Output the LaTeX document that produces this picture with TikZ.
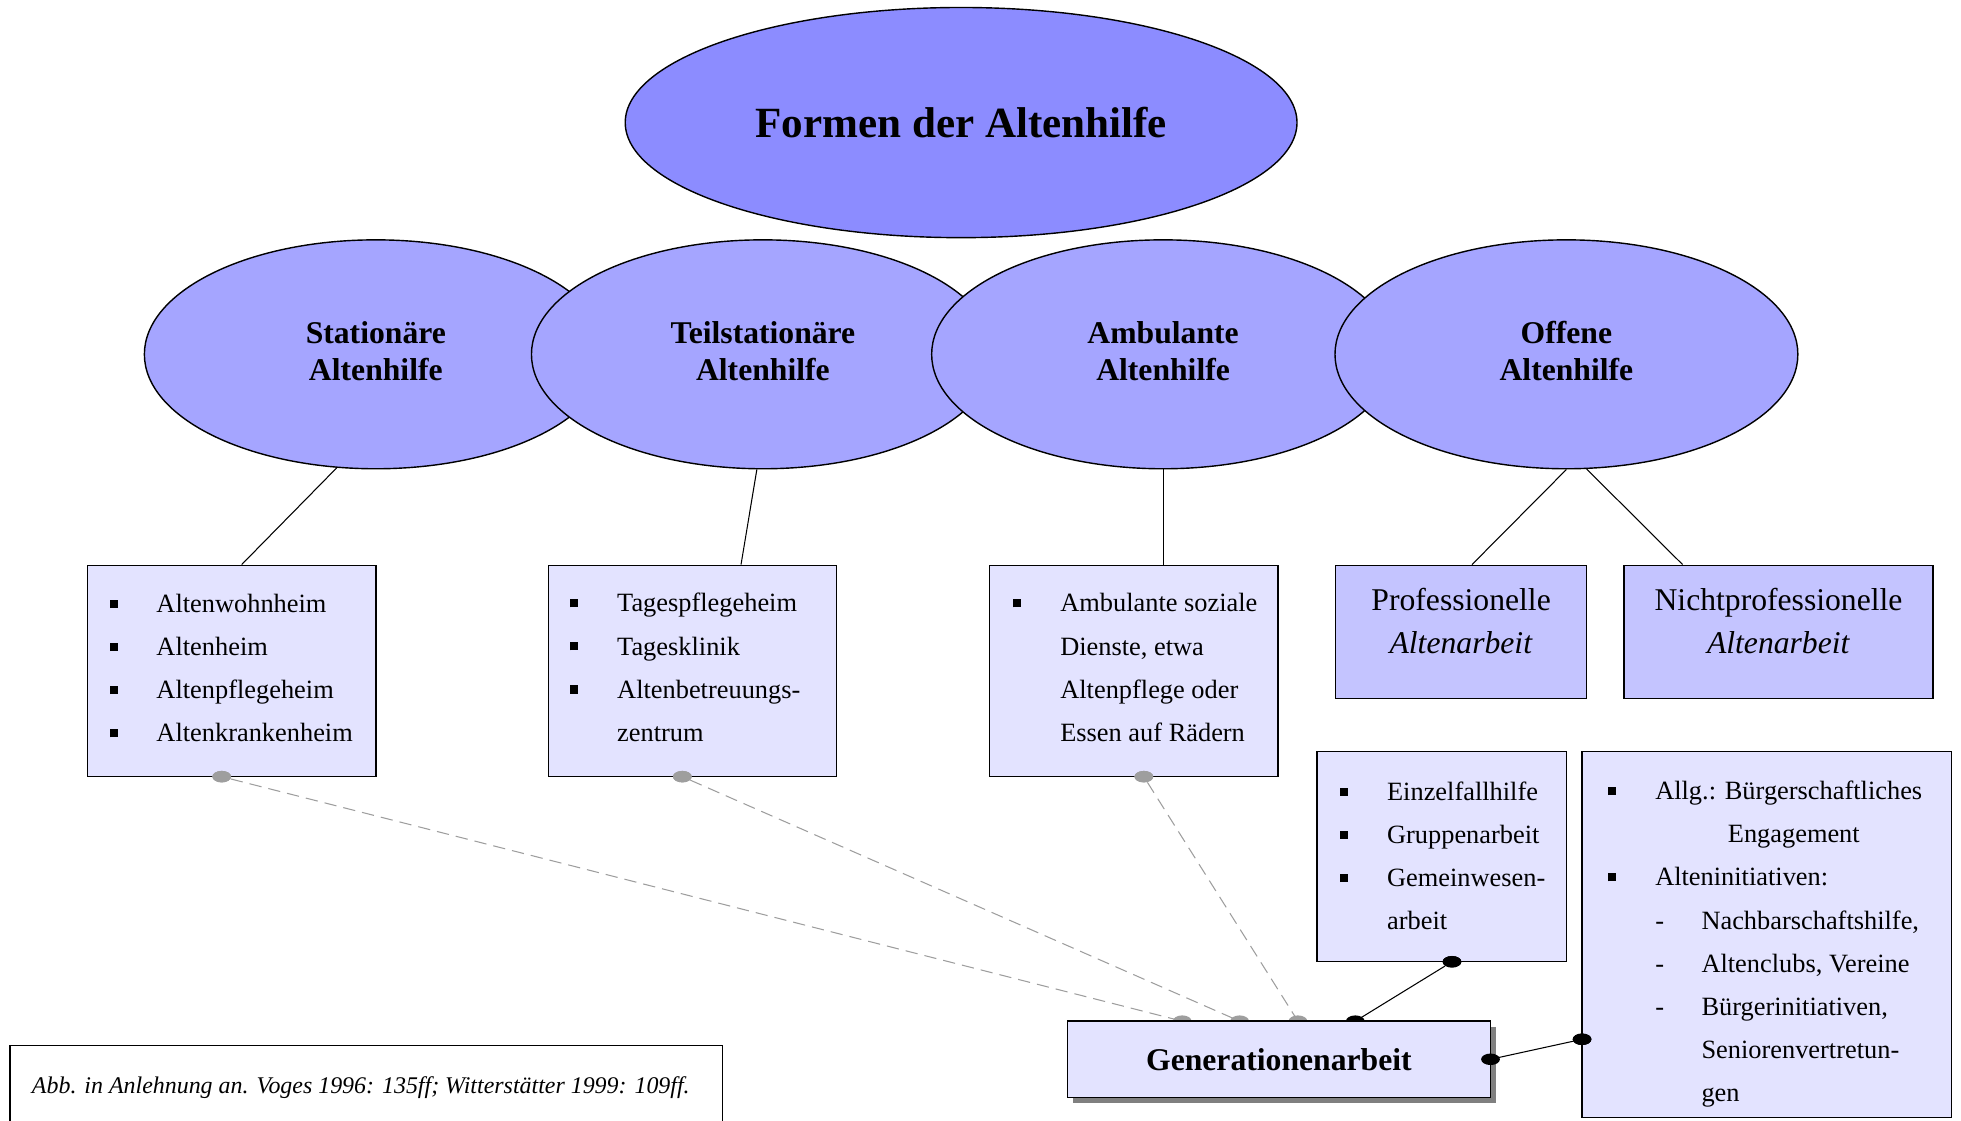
\documentclass[tikz,border=0pt]{standalone}
\usepackage{fontspec}
\setmainfont{Liberation Serif}
\usetikzlibrary{shapes.geometric,shadows,calc}
\definecolor{topfill}{HTML}{8C8CFF}
\definecolor{midfill}{HTML}{A5A5FF}
\definecolor{boxfill}{HTML}{E3E3FF}
\definecolor{profill}{HTML}{C4C4FF}
\definecolor{dotgray}{HTML}{9E9E9E}
\newcommand\blt{\rule[2.6pt]{4.6pt}{4.6pt}}
\newcommand\lfs{\fontsize{15}{24.5}\selectfont}
\begin{document}
\begin{tikzpicture}[x=0.025cm,y=-0.025cm,
  topell/.style={ellipse,draw,line width=0.8pt,fill=topfill,minimum width=13.425cm,minimum height=4.6cm,inner sep=0pt,font=\fontsize{24.5}{28}\selectfont\bfseries},
  midell/.style={ellipse,draw,line width=0.8pt,fill=midfill,minimum width=9.25cm,minimum height=4.575cm,inner sep=0pt,font=\fontsize{18}{21}\selectfont\bfseries},
  listbox/.style={rectangle,draw,line width=0.8pt,fill=boxfill,inner sep=0pt},
  listtext/.style={anchor=base west,inner sep=0pt,font=\lfs},
  probox/.style={rectangle,draw,line width=0.8pt,fill=profill,inner sep=0pt},
  protext/.style={anchor=base,inner sep=0pt,font=\fontsize{18}{24.7}\selectfont},
  genbox/.style={rectangle,draw,line width=0.8pt,fill=boxfill,inner sep=0pt,minimum width=8.46cm,minimum height=1.52cm,font=\fontsize{18}{21}\selectfont\bfseries,
    drop shadow={shadow xshift=0.11cm,shadow yshift=-0.11cm,fill=black!50,opacity=1}},
  capbox/.style={rectangle,draw,line width=0.8pt,fill=white,inner sep=0pt},
  link/.style={line width=0.6pt},
  dashlink/.style={line width=0.6pt,dotgray,dash pattern=on 7pt off 4pt},
  gdot/.style={ellipse,fill=dotgray,inner sep=0pt,minimum width=0.375cm,minimum height=0.23cm},
  kdot/.style={gdot,fill=black},
]
\useasboundingbox (0,0) rectangle (1568,896);

% ellipses
\node[topell] (top) at (768.5,98) {Formen der Altenhilfe};
\node[midell] (st) at (300.5,283.3) {\begin{tabular}{@{}c@{}}Stationäre\\Altenhilfe\end{tabular}};
\node[midell] (te) at (610,283.3) {\begin{tabular}{@{}c@{}}Teilstationäre\\Altenhilfe\end{tabular}};
\node[midell] (am) at (930,283.3) {\begin{tabular}{@{}c@{}}Ambulante\\Altenhilfe\end{tabular}};
\node[midell] (of) at (1252.5,283.3) {\begin{tabular}{@{}c@{}}Offene\\Altenhilfe\end{tabular}};

% boxes
\node[listbox,minimum width=5.7625cm,minimum height=4.225cm] (b1) at (185.25,536.5) {};
\node[listbox,minimum width=5.7625cm,minimum height=4.225cm] (b2) at (553.75,536.5) {};
\node[listbox,minimum width=5.775cm,minimum height=4.225cm] (b3) at (906.5,536.5) {};
\node[probox,minimum width=5.015cm,minimum height=2.6625cm] (pr) at (1168.3,505.25) {};
\node[probox,minimum width=6.175cm,minimum height=2.6625cm] (np) at (1422.1,505.25) {};
\node[listbox,minimum width=4.9875cm,minimum height=4.2cm] (ein) at (1152.75,685) {};
\node[listbox,minimum width=7.3875cm,minimum height=7.3075cm] (allg) at (1412.75,747.15) {};

% connectors ellipse -> box
\draw[link] (st.251.3) -- ([xshift=0.2cm]b1.north);
\draw[link] (te.267.8) -- ([xshift=0.969cm]b2.north);
\draw[link] (am.south) -- (am.south |- b3.north);
\draw[link] (of.south) -- ([xshift=0.2175cm]pr.north);
\draw[link] (of.280) -- ([xshift=-1.9175cm]np.north);

% box texts
\node[listtext] (b1t) at (87.3,489.8) {\begin{tabular}[t]{@{}p{26.7pt}@{}l@{}}\blt&Altenwohnheim\\\blt&Altenheim\\\blt&Altenpflegeheim\\\blt&Altenkrankenheim\end{tabular}};
\node[listtext] (b2t) at (455.7,489.3) {\begin{tabular}[t]{@{}p{26.7pt}@{}l@{}}\blt&Tagespflegeheim\\\blt&Tagesklinik\\\blt&Altenbetreuungs-\\&zentrum\end{tabular}};
\node[listtext] (b3t) at (810,489.3) {\begin{tabular}[t]{@{}p{26.7pt}@{}l@{}}\blt&Ambulante soziale\\&Dienste, etwa\\&Altenpflege oder\\&Essen auf Rädern\end{tabular}};
\node[listtext] (eint) at (1071.3,640) {\begin{tabular}[t]{@{}p{26.7pt}@{}l@{}}\blt&Einzelfallhilfe\\\blt&Gruppenarbeit\\\blt&Gemeinwesen-\\&arbeit\end{tabular}};
\node[listtext] (allgt) at (1285.7,639.5) {\begin{tabular}[t]{@{}p{26.7pt}@{}l@{}}\blt&Allg.: Bürgerschaftliches\\&\hspace{41.3pt}Engagement\\\blt&Alteninitiativen:\\&\makebox[26.3pt][l]{-}Nachbarschaftshilfe,\\&\makebox[26.3pt][l]{-}Altenclubs, Vereine\\&\makebox[26.3pt][l]{-}Bürgerinitiativen,\\&\hspace{26.3pt}Seniorenvertretun-\\&\hspace{26.3pt}gen\end{tabular}};
\node[protext] (prt) at (1168.3,488) {\begin{tabular}[t]{@{}c@{}}Professionelle\\\textit{Altenarbeit}\end{tabular}};
\node[protext] (npt) at (1422.1,488) {\begin{tabular}[t]{@{}c@{}}Nichtprofessionelle\\\textit{Altenarbeit}\end{tabular}};

% dot anchors
\node[gdot] (g1) at (177.3,621) {};
\node[gdot] (g2) at (545.6,621) {};
\node[gdot] (g3) at (914.6,621) {};
\coordinate (h1c) at (945.3,816.5);
\coordinate (h2c) at (991.2,816.5);
\coordinate (h3c) at (1037.8,816.5);
\coordinate (k1c) at (1083.7,816.5);
\node[kdot] (k2) at (1161,769) {};
\coordinate (k3c) at (1191.8,847);
\node[kdot] (k4) at (1265,831) {};

% links
\draw[dashlink] (g1) -- (h1c);
\draw[dashlink] (g2) -- (h2c);
\draw[dashlink] (g3) -- (h3c);
\draw[link] (k1c) -- (k2);
\draw[link] (k3c) -- (k4);
\node[gdot] (g1b) at (g1) {};
\node[gdot] (g2b) at (g2) {};
\node[gdot] (g3b) at (g3) {};
\node[kdot] (k2b) at (k2) {};
\node[kdot] (k4b) at (k4) {};
\node[gdot] (h1) at (h1c) {};
\node[gdot] (h2) at (h2c) {};
\node[gdot] (h3) at (h3c) {};
\node[kdot] (k1) at (k1c) {};

% Generationenarbeit
\node[genbox] (gen) at (1022.6,846.9) {Generationenarbeit};
\node[kdot] (k3) at (k3c) {};

% caption
\node[capbox,minimum width=14.24cm,minimum height=1.7cm] (cap) at (292.8,870) {};
\node[anchor=base west,inner sep=0pt,font=\fontsize{13.6}{16}\selectfont\itshape] (capt) at (25.3,874) {Abb. in Anlehnung an. Voges 1996: 135ff; Witterstätter 1999: 109ff.};
\end{tikzpicture}
\end{document}
